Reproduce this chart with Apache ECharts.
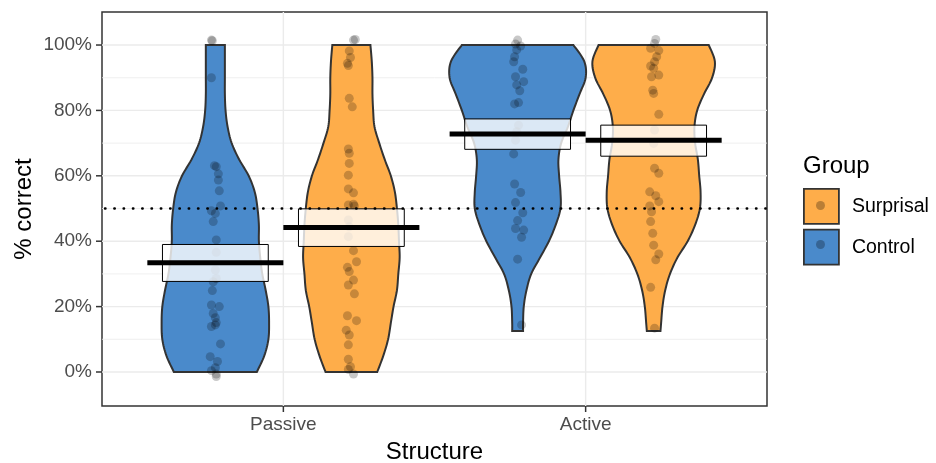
<!DOCTYPE html>
<html>
<head>
<meta charset="utf-8">
<script src="https://cdn.jsdelivr.net/npm/echarts@6/dist/echarts.min.js"></script>
<style>
  html, body { margin: 0; padding: 0; background: #fff; }
  #main { width: 936px; height: 463px; }
</style>
</head>
<body>
<div id="main"></div>
<script>
// categories on the x axis, fill groups
const categories = ['Passive', 'Active'];
const groups = ['Control', 'Surprisal'];
const yTicks = [0, 20, 40, 60, 80, 100];
const yMinor = [10, 30, 50, 70, 90];
const chanceLevel = 50;

// violin outlines: relative density at each % level
const passiveLevels = [0, 5, 10, 15, 20, 25, 30, 35, 40, 45, 50, 55, 60, 65, 70, 75, 80, 85, 90, 95, 100];
const activeLevels = [12.5, 15, 20, 25, 30, 35, 40, 45, 50, 55, 60, 65, 70, 75, 80, 85, 90, 95, 100];
const passiveControlDensity = [0.61, 0.72, 0.78, 0.79, 0.78, 0.74, 0.69, 0.66, 0.64, 0.64, 0.62, 0.58, 0.49, 0.35, 0.24, 0.18, 0.15, 0.14, 0.14, 0.14, 0.14];
const passiveSurprisalDensity = [0.38, 0.47, 0.54, 0.58, 0.62, 0.67, 0.69, 0.71, 0.70, 0.69, 0.67, 0.64, 0.58, 0.49, 0.41, 0.34, 0.32, 0.31, 0.31, 0.30, 0.28];
const activeControlDensity = [0.08, 0.08, 0.09, 0.13, 0.20, 0.33, 0.46, 0.56, 0.63, 0.63, 0.61, 0.60, 0.64, 0.74, 0.82, 0.91, 1.00, 0.98, 0.82];
const activeSurprisalDensity = [0.10, 0.11, 0.13, 0.17, 0.24, 0.35, 0.50, 0.61, 0.68, 0.69, 0.67, 0.65, 0.61, 0.60, 0.64, 0.74, 0.86, 0.90, 0.81];

// individual participants (% correct) and their horizontal jitter (axis units)
const passiveControlScores = [101.5, 101.3, 90.0, 63.1, 62.8, 60.6, 58.7, 55.4, 50.8, 49.3, 48.5, 46.0, 40.4, 36.6, 31.2, 28.6, 27.6, 24.9, 20.5, 20.0, 17.9, 16.6, 15.1, 14.4, 13.9, 8.6, 4.7, 3.2, 1.3, 0.4, -0.6, -1.4];
const passiveControlJitter = [-0.013, -0.010, -0.013, -0.003, 0.003, 0.010, 0.010, 0.013, 0.017, -0.013, 0, -0.007, 0.003, 0.003, 0, 0.003, -0.007, -0.010, -0.013, 0.013, -0.007, 0, 0.003, 0, -0.013, 0.017, -0.017, 0.007, 0, -0.013, 0.003, 0.003];
const passiveSurprisalScores = [101.5, 101.7, 98.2, 96.2, 94.4, 93.7, 83.7, 81.1, 68.2, 66.9, 63.8, 60.2, 56.0, 54.8, 51.1, 51.3, 50.8, 46.5, 44.4, 41.4, 37.1, 33.7, 32.0, 30.7, 28.1, 26.6, 23.9, 17.2, 15.7, 12.8, 11.3, 8.3, 3.9, 1.6, 0.8, -0.6];
const passiveSurprisalJitter = [0.007, 0.013, -0.007, -0.003, -0.013, -0.010, -0.007, 0.003, -0.010, -0.007, -0.007, -0.010, -0.010, 0.007, -0.010, 0.007, 0.010, -0.010, -0.007, -0.010, 0.007, 0.017, -0.013, -0.007, 0.007, -0.010, 0.010, -0.013, 0.017, -0.017, -0.007, -0.010, -0.010, -0.003, -0.010, 0.007];
const activeControlScores = [101.5, 100.3, 99.7, 98.5, 96.4, 94.9, 92.6, 90.3, 88.8, 87.8, 86.0, 82.0, 82.4, 75.5, 73.5, 70.9, 66.7, 57.5, 54.9, 51.8, 48.7, 46.3, 43.9, 43.4, 41.2, 34.5, 14.4];
const activeControlJitter = [0, -0.007, 0.010, -0.003, -0.010, -0.013, 0.017, -0.007, 0.020, -0.003, 0.007, -0.010, 0.003, 0.003, -0.003, -0.007, -0.013, -0.010, 0.010, -0.007, 0.017, 0, -0.007, 0.020, 0.013, 0, 0.013];
const activeSurprisalScores = [101.7, 100.5, 99.0, 98.3, 96.4, 94.9, 93.6, 92.9, 90.8, 90.3, 86.2, 85.2, 78.8, 74.0, 69.9, 62.3, 60.8, 55.1, 53.9, 52.1, 50.8, 49.0, 46.0, 42.4, 38.8, 36.1, 34.3, 25.9, 13.4];
const activeSurprisalJitter = [0.007, 0.003, -0.010, 0.017, 0.010, 0.003, -0.010, 0, 0.017, -0.007, -0.003, 0, 0.017, 0.003, 0, 0.003, 0.017, -0.013, 0.007, 0.017, -0.013, -0.007, -0.010, -0.003, 0, 0.017, 0.007, -0.010, 0.003];

// group means and their confidence intervals, per category [Passive, Active]
const controlMean = [33.4, 72.8];
const controlCiLow = [27.7, 68.1];
const controlCiHigh = [39.0, 77.4];
const surprisalMean = [44.2, 70.9];
const surprisalCiLow = [38.4, 66.0];
const surprisalCiHigh = [49.9, 75.5];

const FONT = '"Liberation Sans", Arial, Helvetica, sans-serif';
const colors = { Control: '#4A8ACB', Surprisal: '#FEAD4A' };
const offset = { Control: -0.225, Surprisal: 0.225 };
const HALF_WIDTH = 0.225;   // widest violin half width
const BOX_HALF = 0.175;
const MEAN_HALF = 0.225;
const DOT = 'rgba(0,0,0,0.27)';
const TICK_LEN = 6;
const X_MIN = 0.4, X_MAX = 2.6, Y_MIN = -10.4, Y_MAX = 110.1;

const profiles = {
  Control: [[passiveLevels, passiveControlDensity], [activeLevels, activeControlDensity]],
  Surprisal: [[passiveLevels, passiveSurprisalDensity], [activeLevels, activeSurprisalDensity]]
};
const scores = {
  Control: [[passiveControlScores, passiveControlJitter], [activeControlScores, activeControlJitter]],
  Surprisal: [[passiveSurprisalScores, passiveSurprisalJitter], [activeSurprisalScores, activeSurprisalJitter]]
};
const summary = {
  Control: [controlMean, controlCiLow, controlCiHigh],
  Surprisal: [surprisalMean, surprisalCiLow, surprisalCiHigh]
};

// catmull-rom through pixel points, just to draw a smooth outline
function spline(pts, steps) {
  const out = [];
  const n = pts.length;
  for (let i = 0; i < n - 1; i++) {
    const p0 = pts[Math.max(i - 1, 0)], p1 = pts[i], p2 = pts[i + 1], p3 = pts[Math.min(i + 2, n - 1)];
    for (let s = 0; s < steps; s++) {
      const t = s / steps, t2 = t * t, t3 = t2 * t;
      const f = (a, b, c, d) => 0.5 * (2 * b + (-a + c) * t + (2 * a - 5 * b + 4 * c - d) * t2 + (-a + 3 * b - 3 * c + d) * t3);
      out.push([f(p0[0], p1[0], p2[0], p3[0]), f(p0[1], p1[1], p2[1], p3[1])]);
    }
  }
  out.push(pts[n - 1]);
  return out;
}

function violinSeries(g) {
  return {
    type: 'custom',
    name: g,
    z: 2,
    silent: true,
    itemStyle: { color: colors[g] },
    data: categories.map((c, i) => [i + 1 + offset[g], 50]),
    renderItem: function (params, api) {
      const xc = api.value(0);
      const levels = profiles[g][params.dataIndex][0];
      const dens = profiles[g][params.dataIndex][1];
      const cx = api.coord([xc, 0])[0];
      const right = spline(levels.map((y, k) => api.coord([xc + dens[k] * HALF_WIDTH, y])), 8);
      const left = right.map(p => [2 * cx - p[0], p[1]]).reverse();
      return {
        type: 'polygon',
        shape: { points: right.concat(left) },
        style: { fill: colors[g], stroke: '#333333', lineWidth: 2 }
      };
    }
  };
}

function pointSeries(g) {
  const data = [];
  categories.forEach((c, i) => {
    const vals = scores[g][i][0], jit = scores[g][i][1];
    vals.forEach((v, k) => data.push([i + 1 + offset[g] + jit[k], v]));
  });
  return {
    type: 'scatter',
    name: g + ' points',
    z: 3,
    silent: true,
    symbolSize: 9,
    itemStyle: { color: DOT },
    data: data
  };
}

function summarySeries(g) {
  return {
    type: 'custom',
    name: g + ' mean',
    z: 4,
    silent: true,
    data: categories.map((c, i) => [i + 1 + offset[g], summary[g][0][i], summary[g][1][i], summary[g][2][i]]),
    renderItem: function (params, api) {
      const x = api.value(0);
      const p1 = api.coord([x - BOX_HALF, api.value(3)]);
      const p2 = api.coord([x + BOX_HALF, api.value(2)]);
      const m1 = api.coord([x - MEAN_HALF, api.value(1)]);
      const m2 = api.coord([x + MEAN_HALF, api.value(1)]);
      return {
        type: 'group',
        children: [
          { type: 'rect', shape: { x: p1[0], y: p1[1], width: p2[0] - p1[0], height: p2[1] - p1[1] },
            style: { fill: 'rgba(255,255,255,0.8)', stroke: '#000', lineWidth: 1 } },
          { type: 'line', shape: { x1: m1[0], y1: m1[1], x2: m2[0], y2: m2[1] },
            style: { stroke: '#000', lineWidth: 5 } }
        ]
      };
    }
  };
}

// panel grid lines (kind 0 minor, 1 major, 2 vertical)
const gridSeries = {
  type: 'custom',
  name: 'grid',
  z: 0,
  silent: true,
  data: yTicks.map(v => [1, v, 1])
    .concat(yMinor.map(v => [1, v, 0]))
    .concat(categories.map((c, i) => [i + 1, 0, 2])),
  renderItem: function (params, api) {
    const cs = params.coordSys;
    const kind = api.value(2);
    if (kind === 2) {
      const x = api.coord([api.value(0), 0])[0];
      return { type: 'line', shape: { x1: x, y1: cs.y, x2: x, y2: cs.y + cs.height },
        style: { stroke: '#EBEBEB', lineWidth: 1.4 } };
    }
    const y = api.coord([1, api.value(1)])[1];
    return { type: 'line', shape: { x1: cs.x, y1: y, x2: cs.x + cs.width, y2: y },
      style: { stroke: '#EBEBEB', lineWidth: kind === 1 ? 1.4 : 0.8 } };
  }
};

const chanceSeries = {
  type: 'custom',
  name: 'chance',
  z: 5,
  silent: true,
  data: [[1, chanceLevel]],
  renderItem: function (params, api) {
    const cs = params.coordSys;
    const y = api.coord([1, api.value(1)])[1];
    return { type: 'line', shape: { x1: cs.x + 3, y1: y, x2: cs.x + cs.width, y2: y },
      style: { stroke: '#000', lineWidth: 2.4, lineDash: [0.5, 8.8], lineCap: 'round' } };
  }
};

const chart = echarts.init(document.getElementById('main'));
const option = {
  animation: false,
  backgroundColor: '#fff',
  textStyle: { fontFamily: FONT },
  grid: { left: 102, right: 169, top: 12, bottom: 57, show: true, borderColor: '#333', borderWidth: 1.5, backgroundColor: '#fff', outerBoundsMode: 'none' },
  xAxis: {
    type: 'value', min: X_MIN, max: X_MAX,
    axisLine: { show: false, onZero: false },
    axisTick: { show: false },
    axisLabel: { customValues: [1, 2], formatter: v => categories[Math.round(v) - 1], fontSize: 19, color: '#4D4D4D', margin: 9, fontFamily: FONT },
    splitLine: { show: false },
    name: 'Structure', nameLocation: 'middle', nameGap: 34, nameMoveOverlap: false,
    nameTextStyle: { fontSize: 24, color: '#000', fontFamily: FONT }
  },
  yAxis: {
    type: 'value', min: Y_MIN, max: Y_MAX,
    axisLine: { show: false, onZero: false },
    axisTick: { show: false },
    axisLabel: { customValues: yTicks, formatter: v => v + '%', fontSize: 19, color: '#4D4D4D', margin: 10, fontFamily: FONT },
    splitLine: { show: false },
    name: '% correct', nameLocation: 'middle', nameGap: 66, nameRotate: 90, nameMoveOverlap: false,
    nameTextStyle: { fontSize: 24, color: '#000', fontFamily: FONT }
  },
  legend: {
    data: ['Surprisal', 'Control'],
    orient: 'vertical', left: 803, top: 188, padding: 0,
    itemWidth: 35, itemHeight: 35, itemGap: 4,
    icon: 'rect',
    selectedMode: false,
    itemStyle: { borderColor: '#333', borderWidth: 1.8 },
    textStyle: { fontSize: 19.5, color: '#000', fontFamily: FONT, padding: [0, 0, 0, 8] }
  },
  graphic: [
    { id: 'legendTitle', type: 'text', left: 803, top: 154, style: { text: 'Group', font: '24px ' + FONT, fill: '#000' } },
    { id: 'dotS', type: 'circle', shape: { cx: 820.5, cy: 205.5, r: 4.5 }, style: { fill: DOT }, z: 100 },
    { id: 'dotC', type: 'circle', shape: { cx: 820.5, cy: 244.5, r: 4.5 }, style: { fill: DOT }, z: 100 }
  ],
  series: [gridSeries]
    .concat(groups.map(violinSeries))
    .concat(groups.map(pointSeries))
    .concat(groups.map(summarySeries))
    .concat([chanceSeries])
};
chart.setOption(option);

// outside tick marks, placed through the chart's own scales
const tickStyle = { stroke: '#333333', lineWidth: 1.5 };
const left = chart.convertToPixel({ gridIndex: 0 }, [X_MIN, 0])[0];
const bottom = chart.convertToPixel({ gridIndex: 0 }, [1, Y_MIN])[1];
const ticks = [];
yTicks.forEach((v, i) => {
  const y = chart.convertToPixel({ gridIndex: 0 }, [1, v])[1];
  ticks.push({ id: 'ytick' + i, type: 'line', z: 50, silent: true,
    shape: { x1: left - TICK_LEN, y1: y, x2: left, y2: y }, style: tickStyle });
});
categories.forEach((c, i) => {
  const x = chart.convertToPixel({ gridIndex: 0 }, [i + 1, 0])[0];
  ticks.push({ id: 'xtick' + i, type: 'line', z: 50, silent: true,
    shape: { x1: x, y1: bottom, x2: x, y2: bottom + TICK_LEN }, style: tickStyle });
});
chart.setOption({ graphic: ticks });
</script>
</body>
</html>
